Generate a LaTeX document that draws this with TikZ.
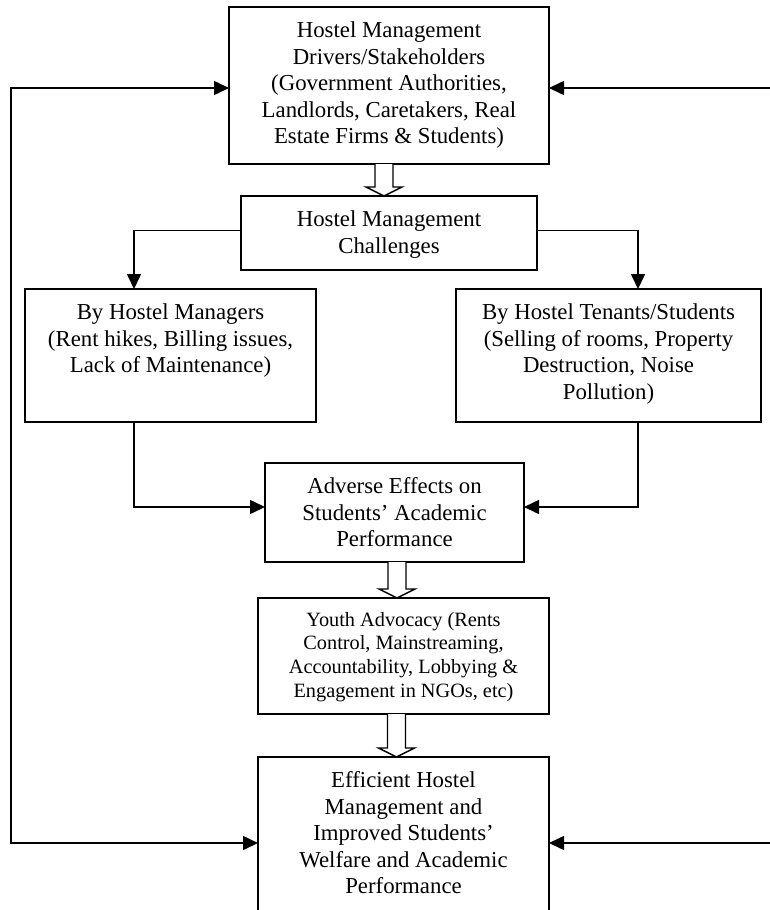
\documentclass[tikz,border=0pt]{standalone}
\usepackage{fontspec}
\setmainfont{Liberation Serif}
\usetikzlibrary{arrows.meta,calc}
\newcommand\bodyfont{\fontsize{22.8}{26.5}\selectfont}
\newcommand\smallbodyfont{\fontsize{20.3}{23.7}\selectfont}
\newcommand\hollowarrow[3]{%
  \coordinate (hs) at ([xshift=#1pt]#2.south);
  \coordinate (ht) at (hs |- #3.north);
  \draw[hollow] ([xshift=-9pt]hs) -- ([xshift=-9pt,yshift=9pt]ht) -- ([xshift=-18pt,yshift=9pt]ht) -- (ht) -- ([xshift=18pt,yshift=9pt]ht) -- ([xshift=9pt,yshift=9pt]ht) -- ([xshift=9pt]hs);
}
\begin{document}
\begin{tikzpicture}[x=1pt,y=-1pt,
  box/.style={draw, line width=1.6pt, inner sep=0pt, outer sep=0pt, anchor=north west},
  txt/.style={anchor=north, inner sep=0pt, align=center, font=\bodyfont},
  smalltxt/.style={txt, font=\smallbodyfont},
  tip/.tip={Triangle[length=15pt,width=14pt]},
  conn/.style={line width=1.6pt, line join=miter, -tip},
  hollow/.style={line width=1.4pt, fill=white, line join=miter}]
\useasboundingbox (0,0) rectangle (770,910);
\clip (0,0) rectangle (770,910);

% boxes
\node[box, minimum width=320pt, minimum height=157pt] (b1) at (229,7) {};
\node[box, minimum width=296pt, minimum height=74pt] (b2) at (241,196) {};
\node[box, minimum width=291pt, minimum height=133pt] (b3) at (25,289) {};
\node[box, minimum width=305pt, minimum height=133pt] (b4) at (456,289) {};
\node[box, minimum width=259pt, minimum height=99pt] (b5) at (265,463) {};
\node[box, minimum width=291pt, minimum height=116pt] (b6) at (258,598) {};
\node[box, minimum width=291pt, minimum height=172pt] (b7) at (258,757) {};

% texts
\node[txt] (t1) at ([yshift=-12pt]b1.north) {\strut Hostel Management\\Drivers/Stakeholders\\(Government Authorities,\\Landlords, Caretakers, Real\\Estate Firms \& Students)};
\node[txt] (t2) at ([yshift=-12pt]b2.north) {\strut Hostel Management\\Challenges};
\node[txt] (t3) at ([yshift=-12pt]b3.north) {\strut By Hostel Managers\\(Rent hikes, Billing issues,\\Lack of Maintenance)};
\node[txt] (t4) at ([yshift=-12pt]b4.north) {\strut By Hostel Tenants/Students\\(Selling of rooms, Property\\Destruction, Noise\\Pollution)};
\node[txt] (t5) at ([yshift=-12pt]b5.north) {\strut Adverse Effects on\\Students’ Academic\\Performance};
\node[smalltxt] (t6) at ([yshift=-11.4pt]b6.north) {\strut Youth Advocacy (Rents\\Control, Mainstreaming,\\Accountability, Lobbying \&\\Engagement in NGOs, etc)};
\node[txt] (t7) at ([yshift=-12pt]b7.north) {\strut Efficient Hostel\\Management and\\Improved Students’\\Welfare and Academic\\Performance};

% hollow arrows
\hollowarrow{-5}{b1}{b2}
\hollowarrow{2.5}{b5}{b6}
\hollowarrow{-7}{b6}{b7}

% connectors
\draw[conn] ([yshift=2.6pt]b2.west) -| ([xshift=109pt]b3.north west);
\draw[conn] ([yshift=2.6pt]b2.east) -| ([xshift=182pt]b4.north west);
\draw[conn] ([xshift=109pt]b3.south west) |- ([yshift=5.5pt]b5.west);
\draw[conn] ([xshift=182pt]b4.south west) |- ([yshift=5.5pt]b5.east);

% feedback lines
\coordinate (L) at (11,88);
\coordinate (R1) at (775,88);
\coordinate (R2) at (775,843);
\draw[conn, tip-tip] (b7.west) -| (L) -- ([yshift=-2.5pt]b1.west);
\draw[conn] (R1) -- ([yshift=-2.5pt]b1.east);
\draw[conn] (R2) -- (b7.east);
\end{tikzpicture}
\end{document}
